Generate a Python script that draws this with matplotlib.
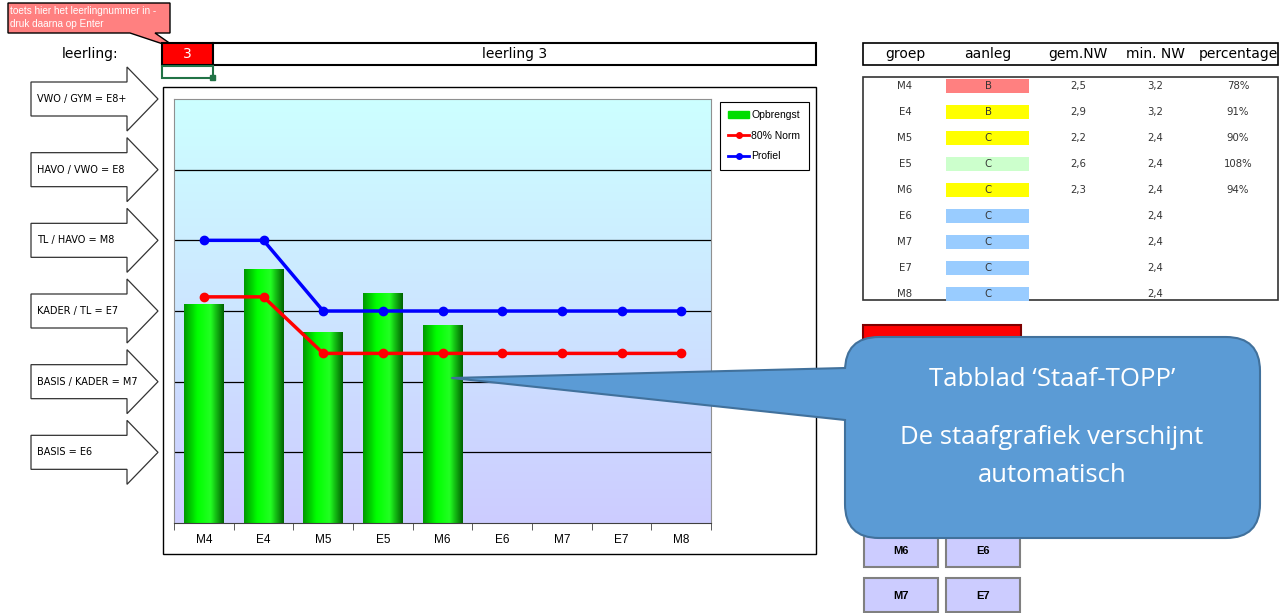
import numpy as np
import matplotlib
matplotlib.use('Agg')
import matplotlib.pyplot as plt
from matplotlib.patches import Rectangle, Polygon, FancyBboxPatch
from matplotlib.lines import Line2D
from matplotlib.colors import LinearSegmentedColormap

# data
groups = ['M4', 'E4', 'M5', 'E5', 'M6', 'E6', 'M7', 'E7', 'M8']
opbrengst = [3.1, 3.6, 2.7, 3.25, 2.8]
norm80 = [3.2, 3.2, 2.4, 2.4, 2.4, 2.4, 2.4, 2.4, 2.4]
profiel = [4, 4, 3, 3, 3, 3, 3, 3, 3]
levels = [1, 2, 3, 4, 5, 6]
level_labels = ['BASIS = E6', 'BASIS / KADER = M7', 'KADER / TL = E7',
                'TL / HAVO = M8', 'HAVO / VWO = E8', 'VWO / GYM = E8+']
aanleg = ['B', 'B', 'C', 'C', 'C', 'C', 'C', 'C', 'C']
aanleg_kleur = ['#FF8080', '#FFFF00', '#FFFF00', '#CCFFCC', '#FFFF00',
                '#99CCFF', '#99CCFF', '#99CCFF', '#99CCFF']
gem_nw = ['2,5', '2,9', '2,2', '2,6', '2,3', '', '', '', '']
percentage = ['78%', '91%', '90%', '108%', '94%', '', '', '', '']
headers = ['groep', 'aanleg', 'gem.NW', 'min. NW', 'percentage']
leerling = 3

W, H = 1287, 613
fig = plt.figure(figsize=(W / 100, H / 100), dpi=100)
hand = ['DejaVu Sans']

# chart
ax = fig.add_axes([174 / W, (H - 523) / H, 537 / W, 424 / H])
x = np.arange(len(groups))
bg = LinearSegmentedColormap.from_list('bg', ['#CCCCFF', '#CCFFFF'])
ax.imshow(np.linspace(0, 1, 100).reshape(-1, 1), cmap=bg, aspect='auto',
          extent=(-0.5, len(groups) - 0.5, 0, 6), origin='lower', zorder=0)
for lv in levels[:-1]:
    ax.axhline(lv, color='black', lw=0.9, zorder=1)

bars = ax.bar(x[:len(opbrengst)], opbrengst, width=0.66, color='#00DD00', zorder=2)
cyl = LinearSegmentedColormap.from_list('cyl', ['#009900', '#00FF00', '#22FF22', '#006400'])
for b in bars:
    im = ax.imshow(np.linspace(0, 1, 64).reshape(1, -1), cmap=cyl, aspect='auto',
                   extent=(b.get_x(), b.get_x() + b.get_width(), 0, b.get_height()),
                   zorder=2.5)
    im.set_clip_path(b)
ax.set_xlim(-0.5, len(groups) - 0.5)
ax.set_ylim(0, 6)

ax.plot(x, norm80, color='#FF0000', lw=2.5, marker='o', ms=6, zorder=3)
ax.plot(x, profiel, color='#0000FF', lw=2.5, marker='o', ms=6, zorder=3)

ax.set_xticks(x)
ax.set_xticklabels(groups, fontsize=8.5, family='Liberation Sans')
ax.set_xticks(np.arange(-0.5, len(groups)), minor=True)
ax.tick_params(axis='x', which='major', length=0, pad=8)
ax.tick_params(axis='x', which='minor', length=5, color='#404040')
ax.set_yticks([])
for s in ['top', 'left', 'right']:
    ax.spines[s].set_color('#909090')
    ax.spines[s].set_linewidth(0.8)
ax.spines['bottom'].set_color('#404040')

handles = [Rectangle((0, 0), 1, 1, color='#00DD00'),
           Line2D([], [], color='#FF0000', lw=2, marker='o', ms=4),
           Line2D([], [], color='#0000FF', lw=2, marker='o', ms=4)]
leg = ax.legend(handles, ['Opbrengst', '80% Norm', 'Profiel'], loc='upper left',
                bbox_to_anchor=(720 / W, 1 - 102 / H), bbox_transform=fig.transFigure,
                borderaxespad=0, prop={'family': 'Liberation Sans', 'size': 7.5},
                fancybox=False, edgecolor='black', framealpha=1, handlelength=2.0,
                handletextpad=0.2, labelspacing=1.0, borderpad=0.8)
leg.get_frame().set_linewidth(0.8)

# overlay for the sheet around the chart
ov = fig.add_axes([0, 0, 1, 1], zorder=5)
ov.set_xlim(0, W)
ov.set_ylim(H, 0)
ov.axis('off')
ov.patch.set_alpha(0)

# chart frame
ov.add_patch(Rectangle((163, 87), 653, 467, fill=False, ec='black', lw=1))

# top-left callout
ov.add_patch(Polygon([(8, 3), (170, 3), (170, 33), (155, 33), (178, 49), (130, 33), (8, 33)],
                     closed=True, fc='#FF8080', ec='black', lw=1))
ov.text(10, 11, 'toets hier het leerlingnummer in -', color='white', fontsize=7.2,
        family='Liberation Sans', va='center')
ov.text(10, 24, 'druk daarna op Enter', color='white', fontsize=7.2,
        family='Liberation Sans', va='center')

# leerling row
ov.text(90, 54, 'leerling:', fontsize=10, ha='center', va='center', family=hand)
ov.add_patch(Rectangle((162, 43), 51, 22, fc='#FF0000', ec='black', lw=1.5))
ov.text(187, 54, str(leerling), color='white', fontsize=10, ha='center', va='center')
ov.add_patch(Rectangle((213, 43), 603, 22, fc='white', ec='black', lw=1.5))
ov.text(515, 54, 'leerling %d' % leerling, fontsize=10, ha='center', va='center', family=hand)
ov.add_patch(Rectangle((162, 66), 51, 12, fill=False, ec='#217346', lw=1.5))
ov.add_patch(Rectangle((210, 75), 5, 5, fc='#217346', ec='#217346'))

# level arrows aligned to the chart's y scale
for lv, lab in zip(levels, level_labels):
    yc = H - ax.transData.transform((0, lv))[1]
    pts = [(31, yc - 17), (127, yc - 17), (127, yc - 32), (158, yc), (127, yc + 32),
           (127, yc + 17), (31, yc + 17)]
    ov.add_patch(Polygon(pts, closed=True, fc='white', ec='#333333', lw=0.9))
    ov.text(37, yc, lab, fontsize=7, va='center', family=hand)

# table
col_x = [905, 988, 1078, 1155, 1238]
ov.add_patch(Rectangle((863, 43), 415, 22, fc='white', ec='black', lw=1.2))
for cx, hd in zip(col_x, headers):
    ov.text(cx, 54, hd, fontsize=10, ha='center', va='center', family=hand)
ov.add_patch(Rectangle((863, 77), 415, 223, fc='white', ec='#333333', lw=1.2))
for i, g in enumerate(groups):
    yr = 86 + 26 * i
    ov.text(col_x[0], yr, g, fontsize=7.3, ha='center', va='center', color='#333333')
    ov.add_patch(Rectangle((946, yr - 7), 83, 14, fc=aanleg_kleur[i], ec='none'))
    ov.text(col_x[1], yr, aanleg[i], fontsize=7.3, ha='center', va='center', color='#333333')
    ov.text(col_x[2], yr, gem_nw[i], fontsize=7.3, ha='center', va='center', color='#333333')
    ov.text(col_x[3], yr, ('%.1f' % norm80[i]).replace('.', ','), fontsize=7.3,
            ha='center', va='center', color='#333333')
    ov.text(col_x[4], yr, percentage[i], fontsize=7.3, ha='center', va='center', color='#333333')

# buttons
ov.add_patch(Rectangle((863, 325), 158, 22, fc='#FF0000', ec='#7F0000', lw=1.5))
for (bx, by, lab) in [(864, 533, 'M6'), (946, 533, 'E6'), (864, 578, 'M7'), (946, 578, 'E7')]:
    ov.add_patch(Rectangle((bx, by), 74, 34, fc='#CCCCFF', ec='#808080', lw=1.5))
    ov.text(bx + 37, by + 18, lab, fontsize=8, fontweight='bold', ha='center',
            va='center', family='Liberation Sans', color='black')

# big callout
ov.add_patch(FancyBboxPatch((845, 337), 415, 201, boxstyle='round,pad=0,rounding_size=34',
                            fc='#5B9BD5', ec='#41719C', lw=1.5))
tail = [(845, 368), (452, 378), (845, 420)]
ov.add_patch(Polygon(tail + [(860, 420), (860, 368)], closed=True, fc='#5B9BD5', ec='none'))
ov.plot([845, 452, 845], [368, 378, 420], color='#41719C', lw=1.5)
for ty, line in [(380, 'Tabblad \u2018Staaf-TOPP\u2019'), (437, 'De staafgrafiek verschijnt'),
                 (476, 'automatisch')]:
    ov.text(1052, ty, line, color='white', fontsize=18.5, ha='center', va='center',
            family='Open Sans')

fig.savefig('out.png', dpi=100)
